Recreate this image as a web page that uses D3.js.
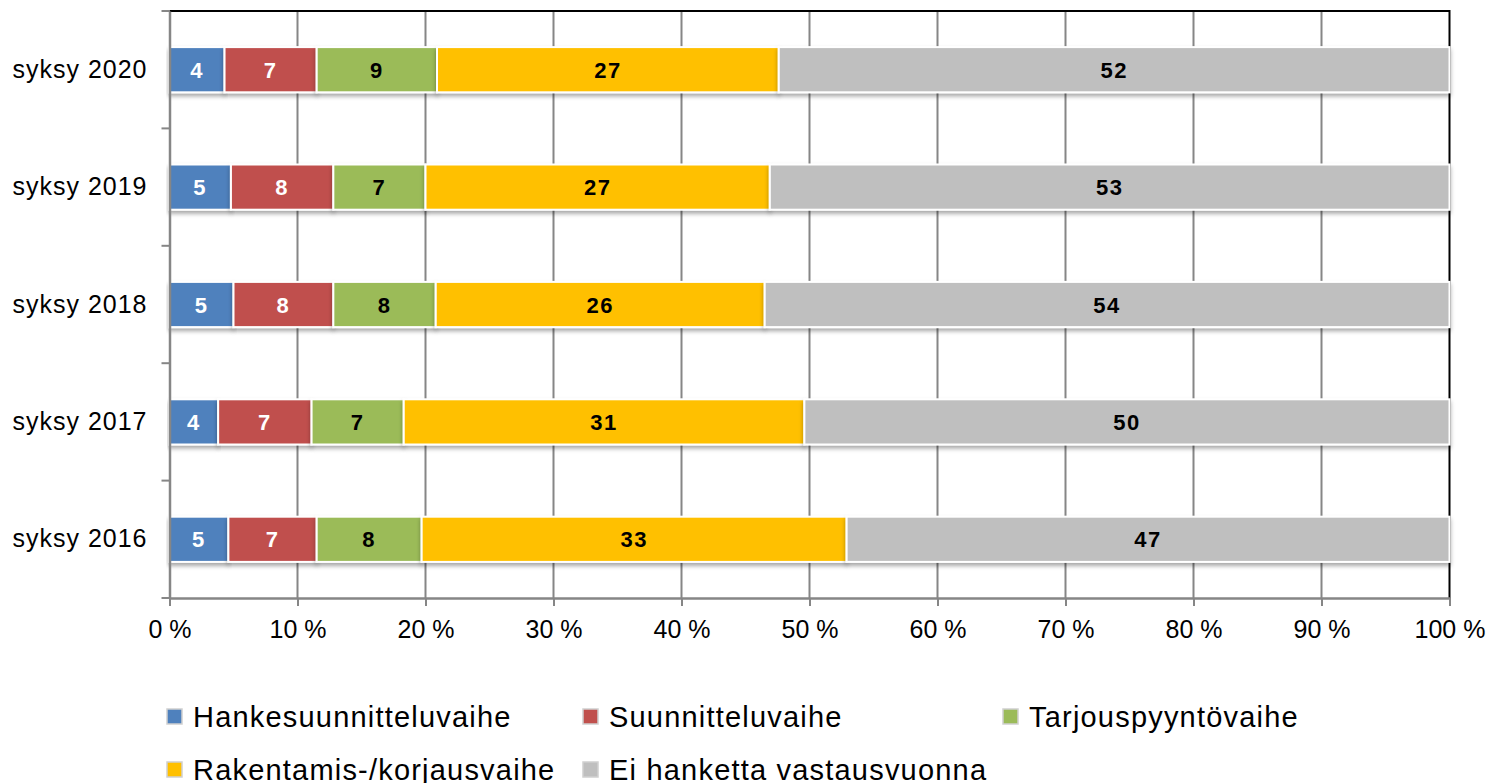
<!DOCTYPE html>
<html>
<head>
<meta charset="UTF-8">
<script src="https://cdn.jsdelivr.net/npm/d3@7"></script>
<style>
  body { margin: 0; background: #fff; }
  text { font-family: "Liberation Sans", Arial, sans-serif; }
</style>
</head>
<body>
<div id="chart"></div>
<script>
// data (percent shares, labels shown rounded)
var categories = ["syksy 2020", "syksy 2019", "syksy 2018", "syksy 2017", "syksy 2016"];
var seriesNames = ["Hankesuunnitteluvaihe", "Suunnitteluvaihe", "Tarjouspyyntövaihe",
                   "Rakentamis-/korjausvaihe", "Ei hanketta vastausvuonna"];
var hanke      = [4.3, 4.8, 5.0, 3.8, 4.6];
var suunn      = [7.2, 8.0, 7.8, 7.3, 6.9];
var tarjous    = [9.4, 7.2, 8.0, 7.2, 8.2];
var rakent     = [26.7, 26.9, 25.7, 31.3, 33.2];
var eiHanketta = [52.4, 53.1, 53.5, 50.4, 47.1];
var xTicks = [0, 10, 20, 30, 40, 50, 60, 70, 80, 90, 100];

var colors = ["#4F81BD", "#C0504D", "#9BBB59", "#FFC000", "#BFBFBF"];
var labelColors = ["#fff", "#fff", "#000", "#000", "#000"];
var seriesValues = [hanke, suunn, tarjous, rakent, eiHanketta];

var width = 1492, height = 783;
var margin = {top: 11, left: 169.5, right: 42.5, bottom: 185};
var w = width - margin.left - margin.right;
var h = height - margin.top - margin.bottom;

var rows = categories.map(function (c, i) {
  var r = {cat: c};
  seriesNames.forEach(function (s, j) { r[s] = seriesValues[j][i]; });
  return r;
});
var stacked = d3.stack().keys(seriesNames).offset(d3.stackOffsetExpand)(rows);

var x = d3.scaleLinear().domain([0, 1]).range([0, w]);
var y = d3.scaleBand().domain(categories).range([0, h]).paddingInner(0.615).paddingOuter(0.3075);

var svg = d3.select("#chart").append("svg")
    .attr("width", width)
    .attr("height", height);

var defs = svg.append("defs");
var f = defs.append("filter").attr("id", "shadow")
    .attr("x", "-5%").attr("y", "-30%").attr("width", "110%").attr("height", "170%");
f.append("feDropShadow").attr("dx", 0).attr("dy", 3).attr("stdDeviation", 2)
    .attr("flood-color", "#000").attr("flood-opacity", 0.35);

var g = svg.append("g").attr("transform", "translate(" + margin.left + "," + margin.top + ")");

// vertical grid lines
g.append("g").selectAll("line")
    .data(xTicks.slice(1, -1))
  .enter().append("line")
    .attr("x1", function (d) { return x(d / 100); })
    .attr("x2", function (d) { return x(d / 100); })
    .attr("y1", 0).attr("y2", h)
    .attr("stroke", "#868686").attr("stroke-width", 2);

// plot area top / right border
g.append("path")
    .attr("d", "M0,0H" + w + "V" + h)
    .attr("fill", "none").attr("stroke", "#000").attr("stroke-width", 2);

// bars
var layer = g.selectAll(".layer")
    .data(stacked)
  .enter().append("g")
    .attr("class", "layer");

layer.each(function (s, j) {
  d3.select(this).selectAll("rect")
      .data(s)
    .enter().append("rect")
      .attr("x", function (d) { return x(d[0]); })
      .attr("y", function (d) { return y(d.data.cat); })
      .attr("width", function (d) { return x(d[1]) - x(d[0]); })
      .attr("height", y.bandwidth())
      .attr("fill", colors[j])
      .attr("stroke", "#fff").attr("stroke-width", 2)
      .attr("filter", "url(#shadow)");
});

// value labels
layer.each(function (s, j) {
  d3.select(this).selectAll("text")
      .data(s)
    .enter().append("text")
      .attr("x", function (d) { return (x(d[0]) + x(d[1])) / 2; })
      .attr("y", function (d) { return y(d.data.cat) + y.bandwidth() / 2 + 8; })
      .attr("text-anchor", "middle")
      .attr("font-size", "22px")
      .attr("letter-spacing", "1.5px")
      .attr("font-weight", "bold")
      .attr("fill", labelColors[j])
      .text(function (d) { return Math.round(d.data[s.key]); });
});

// x axis
var xAxis = d3.axisBottom(x)
    .tickValues(xTicks.map(function (d) { return d / 100; }))
    .tickFormat(function (d) { return Math.round(d * 100) + " %"; })
    .tickSize(8).tickSizeOuter(0).tickPadding(14);
var xa = g.append("g").attr("transform", "translate(0," + h + ")").call(xAxis);
xa.select(".domain").attr("stroke", "#868686").attr("stroke-width", 2.5);
xa.selectAll(".tick line").attr("stroke", "#868686").attr("stroke-width", 2);
xa.selectAll(".tick text").attr("font-size", "25px").attr("fill", "#000")
    .attr("font-family", "Liberation Sans, Arial, sans-serif");

// y axis
var yAxis = d3.axisLeft(y).tickSize(0).tickPadding(22);
var ya = g.append("g").call(yAxis);
ya.select(".domain").attr("stroke", "#868686").attr("stroke-width", 2.5);
ya.selectAll(".tick text").attr("font-size", "25px").attr("fill", "#000")
    .attr("letter-spacing", "1px")
    .attr("font-family", "Liberation Sans, Arial, sans-serif");
// category separators on the left axis
g.append("g").selectAll("line")
    .data(d3.range(categories.length + 1))
  .enter().append("line")
    .attr("x1", -8).attr("x2", 0)
    .attr("y1", function (d) { return d * h / categories.length; })
    .attr("y2", function (d) { return d * h / categories.length; })
    .attr("stroke", "#868686").attr("stroke-width", 2);

// legend
var legendPos = [[167, 717], [583, 717], [1003, 717], [167, 770], [583, 770]];
var lg = svg.append("g").selectAll("g")
    .data(seriesNames)
  .enter().append("g")
    .attr("transform", function (d, i) { return "translate(" + legendPos[i][0] + "," + legendPos[i][1] + ")"; });
lg.append("rect")
    .attr("x", 0).attr("y", -8)
    .attr("width", 15).attr("height", 15)
    .attr("fill", function (d, i) { return colors[i]; })
    .attr("stroke", "#d0d0d0").attr("stroke-width", 1.5);
lg.append("text")
    .attr("x", 26).attr("y", 10)
    .attr("font-size", "29px")
    .attr("letter-spacing", "1.2px")
    .attr("fill", "#000")
    .text(function (d) { return d; });
</script>
</body>
</html>
